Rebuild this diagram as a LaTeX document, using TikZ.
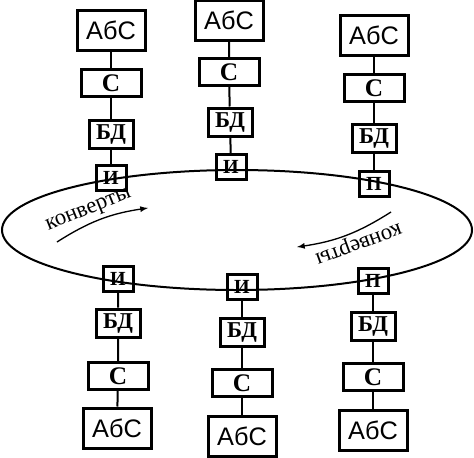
\documentclass[tikz,border=0pt]{standalone}
\usepackage{fontspec}
\setmainfont{Liberation Serif}
\newfontfamily\absfont{Liberation Sans}
\begin{document}
\begin{tikzpicture}[x=0.75pt,y=-0.75pt,
  absbox/.style={draw,line width=2.25pt,minimum width=51pt,minimum height=30pt,inner sep=0pt,font=\absfont\fontsize{19}{19}\selectfont},
  sbox/.style={draw,line width=2.25pt,minimum width=45pt,minimum height=20pt,inner sep=0pt,font=\bfseries\fontsize{19}{19}\selectfont},
  bdbox/.style={draw,line width=2.25pt,minimum width=33pt,minimum height=21pt,inner sep=0pt,font=\bfseries\fontsize{17}{17}\selectfont},
  portbox/.style={draw,line width=2.25pt,minimum width=22.5pt,minimum height=19pt,inner sep=0pt,font=\bfseries\fontsize{15}{15}\selectfont},
  link/.style={line width=1.5pt},
  env/.style={font=\fontsize{17}{17}\selectfont,inner sep=0pt}]
\useasboundingbox (0,0) rectangle (474,457);

\draw[line width=1.5pt] (237,230) ellipse [x radius=235, y radius=60];

\node[absbox] (abs1) at (111,30) {АбС};
\node[sbox] (s1) at (111,83) {С};
\node[bdbox] (bd1) at (111,134) {БД};
\node[portbox] (p1) at (111,178) {И};
\draw[link] (abs1) -- (s1) -- (bd1) -- (p1);

\node[absbox] (abs2) at (229,20) {АбС};
\node[sbox] (s2) at (229,72) {С};
\node[bdbox] (bd2) at (230,122) {БД};
\node[portbox] (p2) at (231,167) {И};
\draw[link] (abs2) -- (s2) -- (bd2) -- (p2);

\node[absbox] (abs3) at (374,35) {АбС};
\node[sbox] (s3) at (374,88) {С};
\node[bdbox] (bd3) at (374,138) {БД};
\node[portbox] (p3) at (374,184) {П};
\draw[link] (abs3) -- (s3) -- (bd3) -- (p3);

\node[portbox] (p4) at (118,279) {И};
\node[bdbox] (bd4) at (118,323) {БД};
\node[sbox] (s4) at (118,376) {С};
\node[absbox] (abs4) at (117,428) {АбС};
\draw[link] (p4) -- (bd4) -- (s4) -- (abs4);

\node[portbox] (p5) at (242,287) {И};
\node[bdbox] (bd5) at (242,332) {БД};
\node[sbox] (s5) at (242,383) {С};
\node[absbox] (abs5) at (242,436) {АбС};
\draw[link] (p5) -- (bd5) -- (s5) -- (abs5);

\node[portbox] (p6) at (373,281) {П};
\node[bdbox] (bd6) at (373,326) {БД};
\node[sbox] (s6) at (373,377) {С};
\node[absbox] (abs6) at (373,430) {АбС};
\draw[link] (p6) -- (bd6) -- (s6) -- (abs6);

\node[env,rotate=22] (envl) at (89,211) {конверты};
\coordinate (al1) at (57,242);
\coordinate (al2) at (148,208);
\draw[line width=1pt,-latex] (al1) to[bend left=12] (al2);

\node[env,rotate=200] (envr) at (358,242) {конверты};
\coordinate (ar1) at (391,212);
\coordinate (ar2) at (297,247);
\draw[line width=1pt,-latex] (ar1) to[bend left=12] (ar2);
\end{tikzpicture}
\end{document}
